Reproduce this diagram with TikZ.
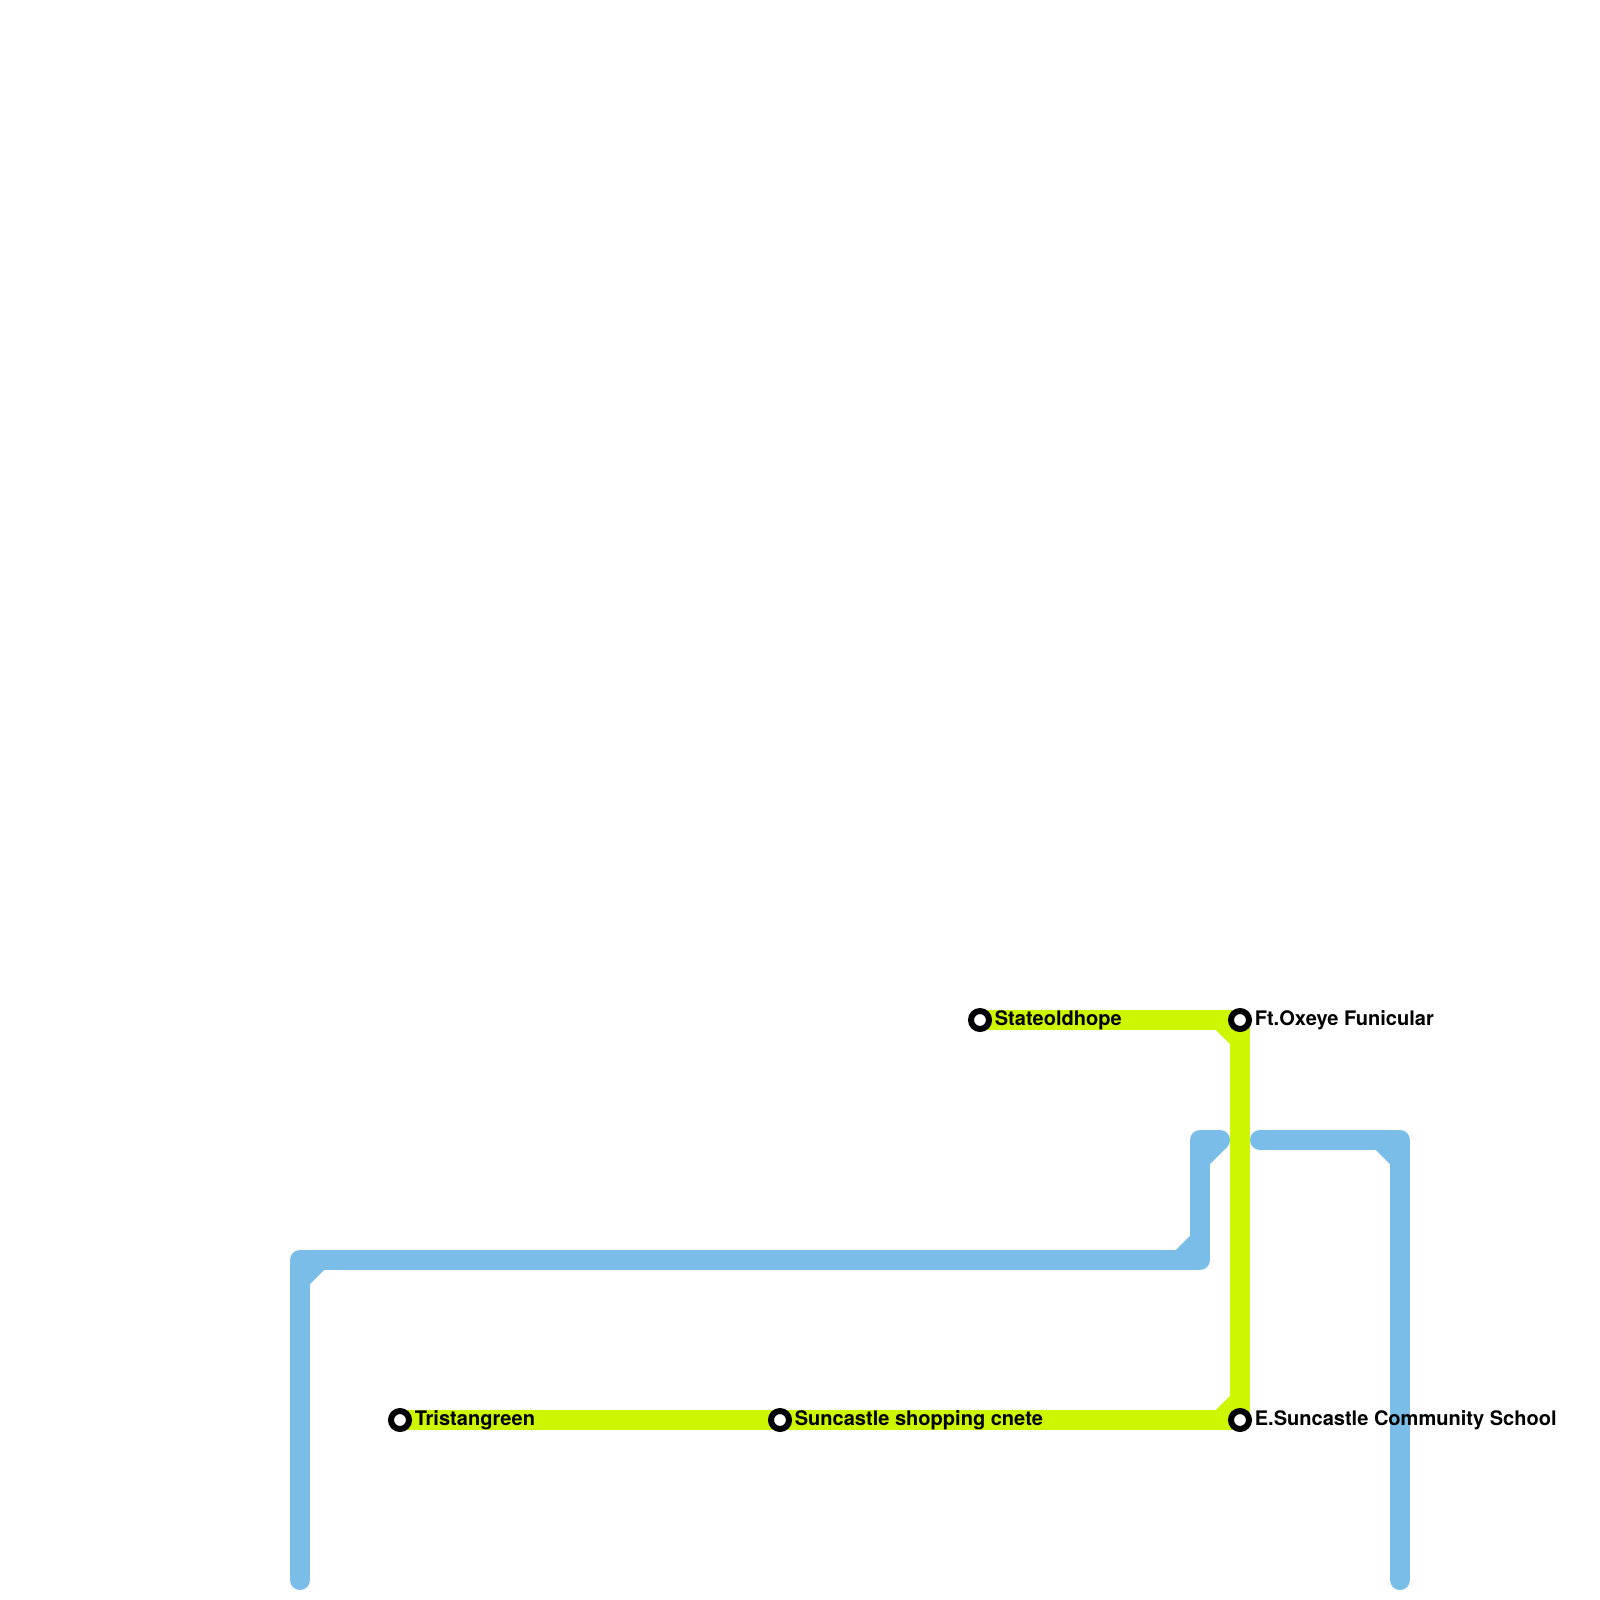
\documentclass[tikz,border=0pt]{standalone}
\usepackage{fontspec}
\setmainfont{TeX Gyre Heros}
\usetikzlibrary{positioning,backgrounds}

\begin{document}
\begin{tikzpicture}[
    x=0.25bp, y=-0.25bp,
    node distance=0.5bp,
    station/.style={circle, draw=black, fill=white, line width=1.5bp, minimum size=4.5bp, inner sep=0pt},
    stationlabel/.style={font=\bfseries\fontsize{5.03pt}{6pt}\selectfont, inner sep=0pt, text height=3.5bp, text depth=0.75bp},
    track/.style={line width=5bp, line cap=round, line join=round},
    bluetrack/.style={track, draw={rgb,255:red,121;green,189;blue,232}},
    greentrack/.style={track, draw={rgb,255:red,204;green,247;blue,0}},
    cut/.style={line cap=butt}
]
\useasboundingbox (0,0) rectangle (1600,1600);

\node[station] (stateoldhope) at (980,1020) {};
\node[station] (ftoxeye) at (1240,1020) {};
\node[station] (tristangreen) at (400,1420) {};
\node[station] (suncastle) at (780,1420) {};
\node[station] (esuncastle) at (1240,1420) {};

\node[stationlabel, right=of stateoldhope] (stateoldhopelabel) {Stateoldhope};
\node[stationlabel, right=of ftoxeye] (ftoxeyelabel) {Ft.Oxeye Funicular};
\node[stationlabel, right=of tristangreen] (tristangreenlabel) {Tristangreen};
\node[stationlabel, right=of suncastle] (suncastlelabel) {Suncastle shopping cnete};
\node[stationlabel, right=of esuncastle] (esuncastlelabel) {E.Suncastle Community School};

\coordinate (bluestart) at (300,1580);
\coordinate (bluenw) at (300,1260);
\coordinate (bluese) at (1200,1260);
\coordinate (bluestub) at (1200,1140);
\coordinate (blueend) at (1220,1140);
\coordinate (bluerestart) at (1260,1140);
\coordinate (bluene) at (1400,1140);
\coordinate (bluefinish) at (1400,1580);

\begin{scope}[on background layer]
\fill[white] (0,0) rectangle (1600,1600);
\draw[bluetrack] (bluestart) -- (bluenw) -- (bluese) -- (bluestub) -- (blueend);
\draw[bluetrack] (bluerestart) -- (bluene) -- (bluefinish);
\draw[bluetrack, cut] ([yshift=-5bp]bluenw) -- ([xshift=5bp]bluenw);
\draw[bluetrack, cut] ([xshift=-5bp]bluese) -- ([yshift=5bp]bluese);
\draw[bluetrack, cut] ([xshift=5bp]bluestub) -- ([yshift=-5bp]bluestub);
\draw[bluetrack, cut] ([xshift=-5bp]bluene) -- ([yshift=-5bp]bluene);
\draw[greentrack] (stateoldhope.center) -- (ftoxeye.center) -- (esuncastle.center) -- (suncastle.center) -- (tristangreen.center);
\draw[greentrack, cut] ([xshift=-5bp]ftoxeye.center) -- ([yshift=-5bp]ftoxeye.center);
\draw[greentrack, cut] ([xshift=-5bp]esuncastle.center) -- ([yshift=5bp]esuncastle.center);
\end{scope}
\end{tikzpicture}
\end{document}
